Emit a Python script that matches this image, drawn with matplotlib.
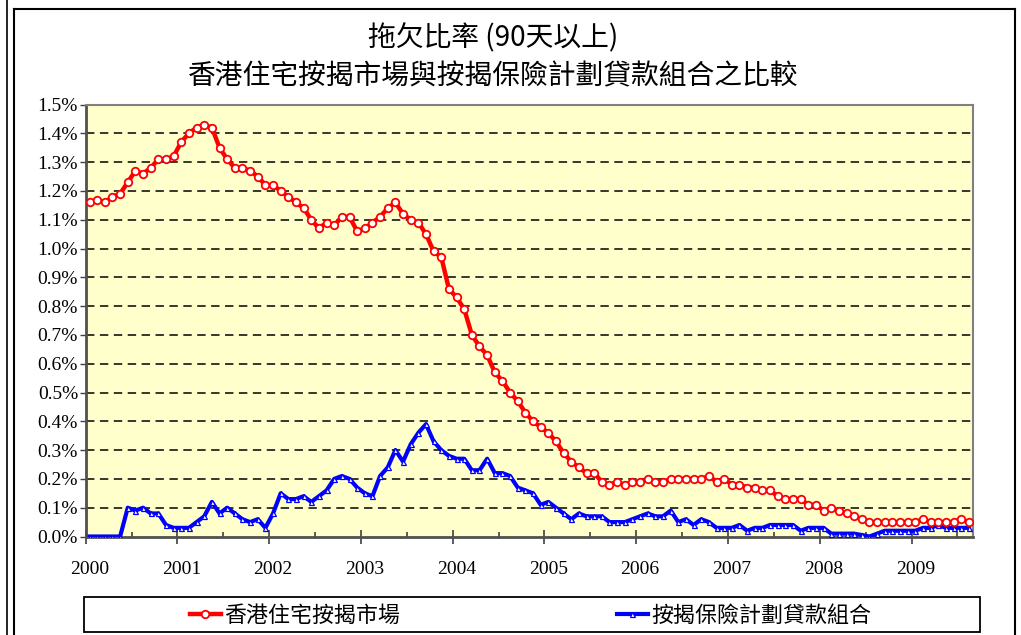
import matplotlib
matplotlib.use("Agg")
import matplotlib.pyplot as plt
from matplotlib.lines import Line2D
from matplotlib.patches import Rectangle
import numpy as np

# ---------------- data ----------------
title_line1 = "拖欠比率 (90天以上)"
title_line2 = "香港住宅按揭市場與按揭保險計劃貸款組合之比較"
series_red_name = "香港住宅按揭市場"
series_blue_name = "按揭保險計劃貸款組合"
year_labels = ["2000", "2001", "2002", "2003", "2004", "2005", "2006", "2007", "2008", "2009"]
ytick_values = [0.0, 0.1, 0.2, 0.3, 0.4, 0.5, 0.6, 0.7, 0.8, 0.9, 1.0, 1.1, 1.2, 1.3, 1.4, 1.5]

# monthly values (%), Jan 2000 - Aug 2009
market = [1.16, 1.17, 1.16, 1.18, 1.19, 1.23, 1.27, 1.26, 1.28, 1.31, 1.31, 1.32,
          1.37, 1.40, 1.42, 1.43, 1.42, 1.35, 1.31, 1.28, 1.28, 1.27, 1.25, 1.22,
          1.22, 1.20, 1.18, 1.16, 1.14, 1.10, 1.07, 1.09, 1.08, 1.11, 1.11, 1.06,
          1.07, 1.09, 1.11, 1.14, 1.16, 1.12, 1.10, 1.09, 1.05, 0.99, 0.97, 0.86,
          0.83, 0.79, 0.70, 0.66, 0.63, 0.57, 0.54, 0.50, 0.47, 0.43, 0.40, 0.38,
          0.36, 0.33, 0.29, 0.26, 0.24, 0.22, 0.22, 0.19, 0.18, 0.19, 0.18, 0.19,
          0.19, 0.20, 0.19, 0.19, 0.20, 0.20, 0.20, 0.20, 0.20, 0.21, 0.19, 0.20,
          0.18, 0.18, 0.17, 0.17, 0.16, 0.16, 0.14, 0.13, 0.13, 0.13, 0.11, 0.11,
          0.09, 0.10, 0.09, 0.08, 0.07, 0.06, 0.05, 0.05, 0.05, 0.05, 0.05, 0.05,
          0.05, 0.06, 0.05, 0.05, 0.05, 0.05, 0.06, 0.05]

mip = [0.00, 0.00, 0.00, 0.00, 0.00, 0.10, 0.09, 0.10, 0.08, 0.08, 0.04, 0.03,
       0.03, 0.03, 0.05, 0.07, 0.12, 0.08, 0.10, 0.08, 0.06, 0.05, 0.06, 0.03,
       0.08, 0.15, 0.13, 0.13, 0.14, 0.12, 0.14, 0.16, 0.20, 0.21, 0.20, 0.17,
       0.15, 0.14, 0.21, 0.24, 0.30, 0.26, 0.32, 0.36, 0.39, 0.33, 0.30, 0.28,
       0.27, 0.27, 0.23, 0.23, 0.27, 0.22, 0.22, 0.21, 0.17, 0.16, 0.15, 0.11,
       0.12, 0.10, 0.08, 0.06, 0.08, 0.07, 0.07, 0.07, 0.05, 0.05, 0.05, 0.06,
       0.07, 0.08, 0.07, 0.07, 0.09, 0.05, 0.06, 0.04, 0.06, 0.05, 0.03, 0.03,
       0.03, 0.04, 0.02, 0.03, 0.03, 0.04, 0.04, 0.04, 0.04, 0.02, 0.03, 0.03,
       0.03, 0.01, 0.01, 0.01, 0.01, 0.005, 0.00, 0.01, 0.02, 0.02, 0.02, 0.02,
       0.02, 0.03, 0.03, 0.04, 0.03, 0.03, 0.03, 0.03]

# ---------------- style ----------------
CJK = ["Noto Sans CJK TC", "DejaVu Sans"]
NUM = "Liberation Serif"
W, H = 1021, 635

fig = plt.figure(figsize=(W / 100, H / 100), dpi=100)
fig.patch.set_facecolor("white")

# axes placement (pixel based)
L, R, T, B = 85.7, 972.7, 104.5, 536.5
ax = fig.add_axes([L / W, 1 - B / H, (R - L) / W, (B - T) / H])
ax.set_facecolor("#FFFFCC")

n = len(market)
x = np.arange(n)

ax.plot(x, market, color="#FF0000", lw=3.2, marker="o", ms=5.4,
        mfc="white", mec="#FF0000", mew=1.3, zorder=4, label=series_red_name)
ax.plot(x, mip, color="#0000FF", lw=3.0, marker="^", ms=3.6,
        mfc="white", mec="#0000FF", mew=0.9, zorder=3, label=series_blue_name)

ax.set_xlim(-0.5, n - 0.5)
ax.set_ylim(0, 1.5)

# grid
for v in ytick_values[1:-1]:
    ax.axhline(v, color="black", lw=1.1, ls=(0, (5.5, 3.6)), zorder=1)

# y ticks
ax.set_yticks(ytick_values)
ax.set_yticklabels([f"{v:.1f}%" for v in ytick_values], fontfamily=NUM, fontsize=14)
ax.tick_params(axis="y", direction="out", length=4.5, width=1.0, color="#404040", pad=1)

# x ticks: major at year boundaries, minor at half years
ax.set_xticks(np.arange(0, n + 1, 12) - 0.5)
ax.set_xticklabels([])
ax.set_xticks(np.arange(6, n, 12) - 0.5, minor=True)
ax.tick_params(axis="x", which="major", direction="inout", length=10, width=1.2, color="#404040")
ax.tick_params(axis="x", which="minor", direction="in", length=3.5, width=1.2, color="#404040")
for k, lab in enumerate(year_labels):
    ax.text(k * 12, -0.077, lab, transform=ax.get_xaxis_transform(),
            ha="center", va="center", fontfamily=NUM, fontsize=14)

for side in ["left", "bottom"]:
    ax.spines[side].set_color("#505050")
    ax.spines[side].set_linewidth(2.0)
for side in ["top", "right"]:
    ax.spines[side].set_color("#808080")
    ax.spines[side].set_linewidth(1.5)

# titles
fig.text(493 / W, 1 - 38 / H, title_line1, ha="center", va="center",
         fontfamily=CJK, fontsize=20)
fig.text(493 / W, 1 - 76 / H, title_line2, ha="center", va="center",
         fontfamily=CJK, fontsize=20)

# outer frames
def fline(x0, y0, x1, y1, lw=1.5, color="black"):
    fig.add_artist(Line2D([x0 / W, x1 / W], [1 - y0 / H, 1 - y1 / H],
                          transform=fig.transFigure, color=color, lw=lw))

fline(14, 9, 1015, 9)
fline(14, 9, 14, 640)
fline(1015, 9, 1015, 640)
fline(7, 0, 7, 640, lw=1.2)

# legend box
fig.add_artist(Rectangle((84 / W, 1 - 632 / H), (980 - 84) / W, (632 - 597) / H,
                         transform=fig.transFigure, fill=False, ec="black", lw=1.3))
handles = ax.get_lines()
leg1 = fig.legend([handles[0]], [series_red_name], loc="center left",
                  bbox_to_anchor=(190 / W, 1 - 616 / H), frameon=False,
                  prop={"family": CJK, "size": 15.8}, handlelength=1.4,
                  handletextpad=0.15, borderaxespad=0, borderpad=0)
leg2 = fig.legend([handles[1]], [series_blue_name], loc="center left",
                  bbox_to_anchor=(617 / W, 1 - 616 / H), frameon=False,
                  prop={"family": CJK, "size": 15.8}, handlelength=1.4,
                  handletextpad=0.15, borderaxespad=0, borderpad=0)

fig.savefig("out.png", dpi=100, facecolor="white")
